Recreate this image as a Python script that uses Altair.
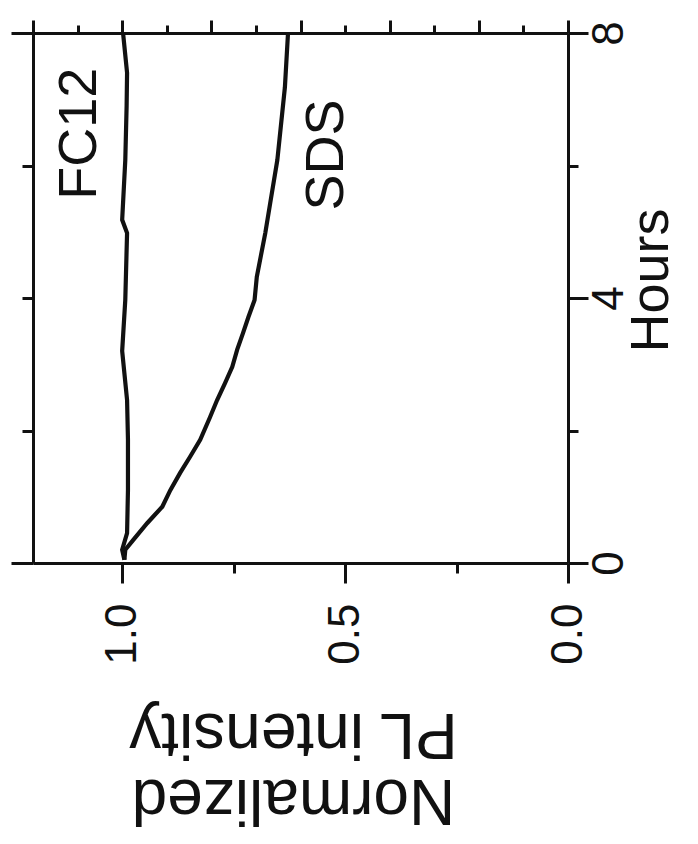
import altair as alt
import pandas as pd

# ---- data ----
sds_hours = [0.05, 0.2, 0.35, 0.6, 0.85, 1.1, 1.36, 1.6, 1.86, 2.2, 2.46, 2.72, 2.96, 3.22, 3.47, 3.71, 3.97, 4.32, 4.98, 5.43, 6.08, 7.18, 8.0]
sds_values = [0.995, 0.993, 0.975, 0.944, 0.91, 0.892, 0.87, 0.848, 0.825, 0.803, 0.787, 0.769, 0.753, 0.742, 0.729, 0.717, 0.703, 0.698, 0.679, 0.668, 0.652, 0.635, 0.628]

fc12_hours = [0.05, 0.2, 0.45, 1.1, 1.86, 2.46, 3.2, 3.97, 4.98, 5.18, 6.08, 6.9, 7.4, 8.0]
fc12_values = [0.995, 1.0, 0.989, 0.987, 0.987, 0.989, 1.0, 0.993, 0.989, 1.0, 0.993, 0.99, 0.989, 0.998]

label_text = ["FC12", "SDS"]
label_values = [1.094, 0.54]
label_hours = [6.48, 6.16]

bottom_ticks = [0.0, 0.25, 0.5, 0.75, 1.0]
top_ticks = [0.0, 0.1, 0.2, 0.3, 0.4, 0.5, 0.6, 0.7, 0.8, 0.9, 1.0, 1.1, 1.2]
hour_ticks = [0, 2, 4, 6, 8]

rows = []
for h, v in zip(sds_hours, sds_values):
    rows.append({"series": "SDS", "hours": h, "value": v})
for h, v in zip(fc12_hours, fc12_values):
    rows.append({"series": "FC12", "hours": h, "value": v})
df = pd.DataFrame(rows)
labels_df = pd.DataFrame({"text": label_text, "value": label_values, "hours": label_hours})

FONT = "Liberation Sans"
INK = "#111111"

xscale = alt.Scale(domain=[0, 1.2], reverse=True, nice=False, zero=False)
yscale = alt.Scale(domain=[0, 8], nice=False, zero=False)

axis_common = dict(domainColor=INK, domainWidth=3, tickColor=INK, tickWidth=3,
                   grid=False, labelFont=FONT, titleFont=FONT, labelColor=INK,
                   titleColor=INK, titleFontWeight="normal")

x_bottom = alt.Axis(
    orient="bottom", values=bottom_ticks,
    tickSize={"condition": {"test": "datum.value % 0.5 === 0", "value": 20}, "value": 10},
    labelExpr="datum.value % 0.5 === 0 ? format(datum.value, '.1f') : ''",
    labelAngle=270, labelAlign="right", labelBaseline="middle",
    labelFontSize=44, labelPadding=20,
    title=["Normalized", "PL intensity"], titleAngle=180, titleFontSize=64,
    titleLineHeight=66, titleAlign="center", titleBaseline="middle",
    titleX=260, titleY=235, **axis_common)

y_right = alt.Axis(
    orient="right", values=hour_ticks,
    tickSize={"condition": {"test": "datum.value % 4 === 0", "value": 20}, "value": 10},
    labelExpr="datum.value % 4 === 0 ? format(datum.value, 'd') : ''",
    labelAngle=270, labelAlign="center", labelBaseline="top",
    labelFontSize=44, labelPadding=-1,
    title="Hours", titleAngle=270, titleFontSize=54, titleAlign="center",
    titleBaseline="middle", titleX=83, titleY=247, **axis_common)

x_top = alt.Axis(
    orient="top", values=top_ticks,
    tickSize={"condition": {"test": "round(datum.value * 10) % 2 === 0", "value": 13}, "value": 8},
    labels=False, title=None, **axis_common)

y_left = alt.Axis(
    orient="left", values=hour_ticks,
    tickSize={"condition": {"test": "datum.value % 8 === 0", "value": 22}, "value": 11},
    labels=False, title=None, **axis_common)

lines = alt.Chart(df).mark_line(color=INK, strokeWidth=4.2).encode(
    x=alt.X("value:Q", scale=xscale, axis=x_bottom),
    y=alt.Y("hours:Q", scale=yscale, axis=y_right),
    detail="series:N",
    order=alt.Order("hours:Q"),
)

frame = alt.Chart(df).mark_line(opacity=0).encode(
    x=alt.X("value:Q", scale=xscale, axis=x_top),
    y=alt.Y("hours:Q", scale=yscale, axis=y_left),
    detail="series:N",
    order=alt.Order("hours:Q"),
)

texts = alt.Chart(labels_df).mark_text(
    angle=270, align="center", baseline="middle", font=FONT, fontSize=54, color=INK
).encode(
    x=alt.X("value:Q", scale=xscale, axis=None),
    y=alt.Y("hours:Q", scale=yscale, axis=None),
    text="text:N",
)

chart = alt.layer(lines, frame, texts).resolve_axis(
    x="independent", y="independent"
).properties(
    width=535, height=530,
    autosize=alt.AutoSizeParams(type="none"),
    padding={"left": 25, "top": 25, "right": 110, "bottom": 281},
).configure_view(stroke=None).configure(background="white")

chart.save("out.html", embed_options={"renderer": "svg", "actions": False})
